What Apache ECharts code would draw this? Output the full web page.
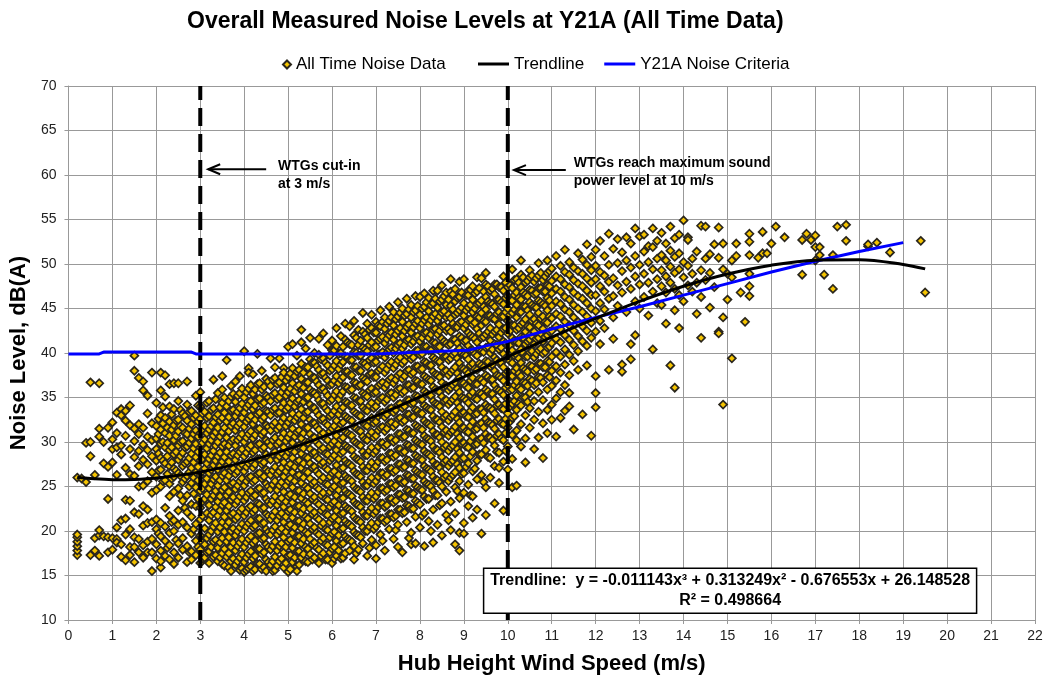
<!DOCTYPE html>
<html>
<head>
<meta charset="utf-8">
<script src="https://cdn.jsdelivr.net/npm/echarts@6/dist/echarts.min.js"></script>
<style>html,body{margin:0;padding:0;background:#fff;}#chart{width:1050px;height:680px;}</style>
</head>
<body>
<div id="chart"></div>
<script>
// ---------- DATA ----------
const chartTitle = 'Overall Measured Noise Levels at Y21A (All Time Data)';
const xAxisTitle = 'Hub Height Wind Speed (m/s)';
const yAxisTitle = 'Noise Level, dB(A)';
const seriesNames = ['All Time Noise Data', 'Trendline', 'Y21A Noise Criteria'];

// Each row: [hub height wind speed (m/s), noise level readings dB(A) ...]
const noiseByWindSpeed = [
[0.2,17.3,17.8,18.3,18.8,19.3,19.6,26.0],
[0.3,25.9],
[0.4,25.5,29.9],
[0.5,36.7,28.4,30.0,17.3],
[0.6,17.8,19.2,26.3],
[0.7,31.5,36.6,30.6,17.2,19.5,20.1],
[0.8,30.0,27.6,19.4],
[0.9,27.2,23.6,31.6,19.3,17.6],
[1.0,32.2,30.3,27.7,19.2,17.9,29.2],
[1.1,29.4,33.3,31.0,19.1,18.7,20.4,26.3],
[1.2,33.7,33.0,29.6,28.6,21.2,18.5,17.1],
[1.3,33.5,32.4,30.7,27.1,21.4,19.6,16.7,23.5],
[1.4,31.9,29.2,26.4,23.4,20.2,18.2,17.3,34.1],
[1.5,39.7,38.0,31.5,30.1,28.3,26.2,22.1,19.3,18.2,16.5],
[1.6,37.2,32.0,30.9,29.0,27.3,21.9,19.1,17.6,25.0],
[1.7,36.8,35.8,31.6,29.7,28.0,25.1,22.8,20.6,17.0,18.4],
[1.8,35.2,33.2,30.6,29.1,27.5,25.6,22.4,20.9,18.8,17.6],
[1.9,37.8,32.1,30.2,28.4,26.6,24.3,21.0,19.1,17.6,15.5],
[2.0,34.4,31.8,30.4,29.2,27.9,26.1,24.6,21.3,20.2,18.5,16.9],
[2.05,32.6,30.9,28.7,26.8,19.7],
[2.1,37.8,35.8,33.0,31.4,29.8,28.2,26.9,25.0,20.9,19.4,17.8,15.9,16.6],
[2.15,33.9,32.1,30.0,27.9,25.6],
[2.2,37.5,35.1,32.7,31.0,29.4,27.6,25.7,22.6,20.5,18.9,17.2],
[2.25,31.6,29.9,28.4,26.4,18.1],
[2.3,36.5,34.0,32.3,30.7,29.1,27.3,25.3,23.9,21.7,19.8,18.4,16.8],
[2.35,33.1,31.4,29.4,27.7,25.9,21.0],
[2.4,36.6,33.7,31.9,30.2,28.6,27.0,26.1,24.4,21.2,20.0,17.6,16.3],
[2.45,32.4,30.7,28.9,26.8,19.0],
[2.5,36.6,34.6,32.5,31.2,29.6,28.0,26.5,24.8,22.3,20.7,18.6,17.0],
[2.55,33.6,31.8,30.0,28.4,26.2,24.0],
[2.6,33.2,31.6,30.1,28.8,27.3,25.5,23.4,21.0,19.2,17.9],
[2.65,32.9,31.0,29.4,27.6,25.9,22.6],
[2.7,36.8,34.2,32.4,30.9,29.5,27.8,26.2,24.0,22.1,20.4,18.3,16.5],
[2.75,33.4,31.5,29.9,28.2,26.6,25.0,17.6],
[2.8,33.5,32.0,30.4,28.7,27.1,25.4,23.0,21.6,19.7,17.7,16.8],
[2.85,32.7,30.9,29.3,27.7,26.0,24.2,20.2],
[2.9,35.2,33.0,31.3,29.8,28.3,26.6,24.9,22.8,20.8,18.9,17.3],
[2.95,34.1,32.3,30.6,28.9,27.2,25.7,23.6,18.2],
[3.0,35.6,34.0,32.6,31.0,29.4,27.9,26.2,24.5,22.6,21.3,19.5,17.9,16.4],
[3.05,33.2,31.4,29.9,28.1,26.7,24.8,23.3,21.7,18.7,16.9],
[3.1,33.4,31.8,30.3,28.6,27.0,25.3,23.6,20.3,18.5,17.0],
[3.15,34.4,32.7,31.0,29.3,27.6,25.9,24.1,22.0,19.2,17.6],
[3.2,34.6,32.9,31.4,29.8,28.1,26.5,24.8,22.9,21.2,19.6,17.7,16.4],
[3.25,33.6,31.8,30.2,28.5,26.9,25.3,23.6,21.8,20.0,18.2],
[3.3,37.0,33.8,32.2,30.7,29.0,27.4,25.8,24.0,22.1,20.5,18.8,17.1],
[3.35,34.8,32.8,31.1,29.6,27.9,26.1,24.5,22.7,20.9,19.0,17.3],
[3.4,35.5,33.1,31.6,30.0,28.4,26.9,25.1,23.3,21.7,19.9,18.1,16.6],
[3.45,33.9,32.4,30.6,28.8,27.3,25.7,23.9,22.3,20.4,18.7,17.0],
[3.5,35.9,34.4,32.7,31.1,29.5,27.8,26.2,24.6,22.9,21.0,19.2,17.5,16.3,37.4],
[3.55,35.0,33.3,31.6,29.8,28.3,26.5,24.9,23.2,21.6,19.9,18.0,16.1],
[3.6,39.2,34.0,32.3,30.5,28.9,27.3,25.7,24.0,22.3,20.6,18.8,17.1],
[3.65,34.6,32.8,31.2,29.6,27.8,26.2,24.4,22.8,21.0,19.3,17.5,15.9],
[3.7,36.3,35.1,33.5,31.8,30.1,28.5,26.8,25.2,23.5,21.8,20.0,18.2,16.6,15.5],
[3.75,35.4,33.6,32.1,30.3,28.7,27.0,25.4,23.8,22.0,20.3,18.7,16.9],
[3.8,36.8,34.5,32.9,31.3,29.6,28.0,26.4,24.7,23.0,21.3,19.5,17.8,16.2],
[3.85,35.2,33.4,31.8,30.2,28.5,26.7,25.1,23.4,21.6,20.0,18.3,16.6],
[3.9,37.4,35.5,33.8,32.1,30.5,28.9,27.2,25.6,23.9,22.2,20.4,18.7,17.0,15.6],
[3.95,36.0,34.3,32.7,30.9,29.2,27.5,25.9,24.3,22.5,20.8,19.1,17.4,15.8],
[4.0,40.2,35.0,33.3,31.7,30.0,28.4,26.7,25.1,23.4,21.7,20.0,18.2,16.5,15.4],
[4.05,35.6,33.9,32.3,30.5,28.8,27.2,25.6,23.8,22.1,20.5,18.7,17.0,15.6],
[4.1,38.3,37.8,36.0,34.2,32.6,30.9,29.3,27.6,26.0,24.3,22.6,20.9,19.1,17.4,15.8],
[4.15,36.4,34.6,32.9,31.2,29.6,27.9,26.1,24.5,22.8,21.2,19.4,17.7,16.0],
[4.2,37.6,35.4,33.7,32.0,30.4,28.8,27.1,25.5,23.8,22.1,20.4,18.6,16.9,15.5],
[4.25,35.9,34.1,32.5,30.8,29.1,27.5,25.7,24.0,22.4,20.6,18.9,17.2,15.7],
[4.3,39.9,36.5,34.8,33.1,31.4,29.7,28.1,26.4,24.7,23.1,21.4,19.7,18.0,16.3],
[4.35,36.6,34.9,33.3,31.5,29.8,28.1,26.5,24.8,23.0,21.4,19.8,18.0,16.3],
[4.4,38.0,35.9,34.2,32.5,30.8,29.2,27.5,25.9,24.2,22.5,20.8,19.1,17.4,15.7],
[4.45,36.2,34.4,32.8,31.1,29.4,27.7,26.1,24.3,22.6,20.9,19.2,17.6,15.9],
[4.5,37.1,35.2,33.5,31.9,30.2,28.6,26.9,25.3,23.6,21.9,20.2,18.5,16.8,15.5],
[4.55,36.8,35.0,33.4,31.7,30.0,28.3,26.7,25.0,23.3,21.7,19.9,18.2,16.5],
[4.6,39.4,36.3,34.6,33.0,31.3,29.6,28.0,26.3,24.7,23.0,21.3,19.6,17.9,16.2],
[4.65,37.0,35.3,33.6,31.9,30.2,28.6,26.8,25.2,23.4,21.7,20.1,18.3,16.6,15.5],
[4.7,38.4,37.2,35.5,33.8,32.2,30.5,28.9,27.2,25.6,23.9,22.2,20.5,18.8,17.1,15.6],
[4.75,36.5,34.8,33.2,31.4,29.7,28.0,26.4,24.6,22.9,21.2,19.6,17.8,16.1],
[4.8,39.4,36.7,35.0,33.3,31.7,30.0,28.4,26.7,25.1,23.4,21.7,20.0,18.3,16.6],
[4.85,37.3,35.6,33.9,32.3,30.5,28.8,27.1,25.5,23.7,22.0,20.3,18.6,16.9],
[4.9,38.3,37.8,36.1,34.4,32.7,31.0,29.4,27.7,26.1,24.4,22.7,21.0,19.3,17.6,15.9],
[4.95,36.9,35.2,33.6,31.8,30.1,28.4,26.7,25.1,23.3,21.6,19.9,18.2,16.4],
[5.0,40.7,37.3,35.6,33.9,32.2,30.5,28.9,27.2,25.6,23.9,22.2,20.5,18.8,17.2,15.4],
[5.05,37.7,36.0,34.4,32.6,30.9,29.2,27.5,25.9,24.1,22.4,20.7,19.0,17.3,15.7],
[5.1,41.0,38.3,36.6,34.9,33.2,31.5,29.9,28.2,26.6,24.9,23.2,21.5,19.8,18.1,16.5],
[5.15,37.4,35.7,34.0,32.4,30.6,28.9,27.2,25.6,23.8,22.1,20.4,18.7,17.0],
[5.2,39.7,37.9,36.2,34.5,32.8,31.1,29.5,27.8,26.2,24.5,22.8,21.1,19.4,17.7,16.0,15.5],
[5.25,38.1,36.4,34.7,33.1,31.3,29.6,27.9,26.3,24.5,22.8,21.1,19.4,17.7,16.2],
[5.3,42.6,41.2,38.8,37.1,35.4,33.7,32.0,30.4,28.7,27.1,25.4,23.7,22.0,20.3,18.6,17.0],
[5.35,37.8,36.1,34.5,32.7,31.0,29.3,27.6,26.0,24.2,22.5,20.8,19.1,17.4],
[5.4,40.5,38.4,36.7,35.0,33.3,31.6,30.0,28.3,26.7,25.0,23.3,21.6,19.9,18.2,16.6],
[5.45,38.4,36.7,35.0,33.4,31.6,29.9,28.2,26.6,24.8,23.1,21.4,19.7,18.0,16.5],
[5.5,41.7,39.3,37.6,35.9,34.2,32.5,30.9,29.2,27.6,25.9,24.2,22.5,20.8,19.1,17.4],
[5.55,38.9,37.2,35.6,33.8,32.1,30.4,28.7,27.1,25.3,23.6,21.9,20.2,18.5,16.8],
[5.6,40.0,38.9,37.2,35.5,33.8,32.1,30.5,28.8,27.2,25.5,23.8,22.1,20.4,18.7,17.0],
[5.65,38.5,36.8,35.2,33.4,31.7,30.0,28.3,26.7,24.9,23.2,21.5,19.8,18.1],
[5.7,41.6,39.8,38.1,36.4,34.7,33.0,31.4,29.7,28.1,26.4,24.7,23.0,21.3,19.6,17.9,16.4],
[5.75,39.3,37.6,35.9,34.3,32.5,30.8,29.1,27.5,25.7,24.0,22.3,20.6,18.9,17.2],
[5.8,42.2,39.4,37.7,36.0,34.3,32.6,31.0,29.3,27.7,26.0,24.3,22.6,20.9,19.2,17.5],
[5.85,38.9,37.2,35.6,33.8,32.1,30.4,28.7,27.1,25.3,23.6,21.9,20.2,18.5,16.8],
[5.9,40.9,38.6,36.9,35.2,33.5,31.9,30.2,28.6,26.9,25.2,23.5,21.8,20.1,18.4,16.8],
[5.95,39.7,38.0,36.4,34.6,32.9,31.2,29.5,27.9,26.1,24.4,22.7,21.0,19.3,17.6],
[6.0,41.4,40.3,38.2,36.5,34.8,33.1,31.5,29.8,28.2,26.5,24.8,23.1,21.4,19.7,18.0,16.4],
[6.05,40.3,38.6,36.9,35.3,33.5,31.8,30.1,28.5,26.7,25.0,23.3,21.6,19.9,18.2,16.9],
[6.1,42.8,40.8,39.1,37.4,35.7,34.0,32.4,30.7,29.1,27.4,25.7,24.0,22.3,20.6,18.9,17.2],
[6.15,39.9,38.2,36.6,34.8,33.1,31.4,29.7,28.1,26.3,24.6,22.9,21.2,19.5,17.8],
[6.2,41.9,40.0,38.7,37.0,35.3,33.6,32.0,30.3,28.7,27.0,25.3,23.6,21.9,20.2,18.5,16.9],
[6.25,40.7,39.0,37.3,35.7,33.9,32.2,30.5,28.9,27.1,25.4,23.7,22.0,20.3,18.6,17.0],
[6.3,43.3,41.5,39.6,37.9,36.2,34.5,32.9,31.2,29.6,27.9,26.2,24.5,22.8,21.1,19.4,17.5],
[6.35,41.2,39.5,37.9,36.1,34.4,32.7,31.0,29.4,27.6,25.9,24.2,22.5,20.8,19.1],
[6.4,43.0,41.0,39.2,37.5,35.8,34.1,32.5,30.8,29.2,27.5,25.8,24.1,22.4,20.7,19.0,17.8],
[6.45,40.9,39.2,37.5,35.9,34.1,32.4,30.7,29.1,27.3,25.6,23.9,22.2,20.5,18.8],
[6.5,43.6,42.0,40.1,38.4,36.7,35.0,33.4,31.7,30.1,28.4,26.7,25.0,23.3,21.6,19.9,18.3,16.8],
[6.55,41.7,40.0,38.4,36.6,34.9,33.2,31.5,29.9,28.1,26.4,24.7,23.0,21.3,19.6,17.5],
[6.6,42.6,40.9,39.7,38.0,36.3,34.6,33.0,31.3,29.7,28.0,26.3,24.6,22.9,21.2,19.5,17.9],
[6.65,41.4,39.7,38.0,36.4,34.6,32.9,31.2,29.6,27.8,26.1,24.4,22.7,21.0,19.3],
[6.7,44.5,42.4,40.6,38.9,37.2,35.5,33.9,32.2,30.6,28.9,27.2,25.5,23.8,22.1,20.4,18.6],
[6.75,42.1,40.4,38.8,37.0,35.3,33.6,31.9,30.3,28.5,26.8,25.1,23.4,21.7,20.0],
[6.8,43.3,41.7,40.2,38.5,36.8,35.1,33.5,31.8,30.2,28.5,26.8,25.1,23.4,21.7,20.0,17.2],
[6.85,42.6,40.9,39.2,37.6,35.8,34.1,32.4,30.8,29.0,27.3,25.6,23.9,22.2,20.5,18.1],
[6.9,44.3,42.8,41.2,39.4,37.7,36.0,34.4,32.7,31.1,29.4,27.7,26.0,24.3,22.6,20.9,19.0],
[6.95,42.3,40.6,38.9,37.3,35.5,33.8,32.1,30.5,28.7,27.0,25.3,23.6,21.9,20.2],
[7.0,43.5,42.3,40.7,39.0,37.3,35.6,34.0,32.3,30.7,29.0,27.3,25.6,23.9,22.2,20.5,18.4,16.9],
[7.05,43.1,41.4,39.8,38.0,36.3,34.6,32.9,31.3,29.5,27.8,26.1,24.4,22.7,21.0],
[7.1,44.8,43.0,41.6,39.9,38.2,36.5,34.9,33.2,31.6,29.9,28.2,26.5,24.8,23.1,21.4,19.6],
[7.15,43.5,41.8,40.1,38.5,36.7,35.0,33.3,31.7,29.9,28.2,26.5,24.8,23.1,21.4,18.9],
[7.2,44.0,42.7,41.1,39.5,37.8,36.1,34.5,32.8,31.2,29.5,27.8,26.1,24.4,22.7,21.0,17.8],
[7.25,43.3,41.6,40.0,38.2,36.5,34.8,33.1,31.5,29.7,28.0,26.3,24.6,22.9,21.2],
[7.3,45.2,43.6,42.0,40.4,38.7,37.0,35.4,33.7,32.1,30.4,28.7,27.0,25.3,23.6,21.9,20.2],
[7.35,44.0,42.3,40.6,39.0,37.2,35.5,33.8,32.2,30.4,28.7,27.0,25.3,23.6,21.9],
[7.4,44.6,43.1,41.5,40.0,38.3,36.6,35.0,33.3,31.7,30.0,28.3,26.6,24.9,23.2,21.5,19.1],
[7.45,43.8,42.1,40.5,38.7,37.0,35.3,33.6,32.0,30.2,28.5,26.8,25.1,23.4,21.7,20.1],
[7.5,45.7,44.1,42.5,40.9,39.2,37.5,35.9,34.2,32.6,30.9,29.2,27.5,25.8,24.1,22.4,20.7,18.2],
[7.55,44.5,42.8,41.1,39.5,37.7,36.0,34.3,32.7,30.9,29.2,27.5,25.8,24.1,22.4],
[7.6,45.0,43.5,41.9,40.5,38.8,37.1,35.5,33.8,32.2,30.5,28.8,27.1,25.4,23.7,22.0,17.6],
[7.65,44.2,42.5,40.9,39.1,37.4,35.7,34.0,32.4,30.6,28.9,27.2,25.5,23.8,22.1],
[7.7,46.1,44.4,42.9,41.4,39.7,38.0,36.4,34.7,33.1,31.4,29.7,28.0,26.3,24.6,22.9,21.0],
[7.75,44.9,43.2,41.5,39.9,38.1,36.4,34.7,33.1,31.3,29.6,27.9,26.2,24.5,22.8,19.2],
[7.8,45.4,44.0,42.3,41.0,39.3,37.6,36.0,34.3,32.7,31.0,29.3,27.6,25.9,24.2,22.5,19.8,18.5],
[7.85,44.6,42.9,41.3,39.5,37.8,36.1,34.4,32.8,31.0,29.3,27.6,25.9,24.2,22.5],
[7.9,46.4,44.8,43.3,41.8,40.2,38.5,36.9,35.2,33.6,31.9,30.2,28.5,26.8,25.1,23.4,21.6,18.6],
[7.95,45.3,43.6,41.9,40.3,38.5,36.8,35.1,33.5,31.7,30.0,28.3,26.6,24.9,23.2],
[8.0,46.3,44.3,42.8,41.3,39.8,38.1,36.5,34.8,33.2,31.5,29.8,28.1,26.4,24.7,23.0,20.4],
[8.05,45.0,43.3,41.7,39.9,38.2,36.5,34.8,33.2,31.4,29.7,28.0,26.3,24.6,21.7],
[8.1,46.7,45.2,43.7,42.2,40.7,39.0,37.4,35.7,34.1,32.4,30.7,29.0,27.3,25.6,23.9,22.0,18.3],
[8.15,45.7,44.0,42.3,40.7,38.9,37.2,35.5,33.9,32.1,30.4,28.7,27.0,25.3,23.6],
[8.2,46.2,44.7,43.2,41.7,40.3,38.6,37.0,35.3,33.7,32.0,30.3,28.6,26.9,25.2,23.6,21.1],
[8.25,45.4,43.7,42.1,40.3,38.6,36.9,35.2,33.6,31.8,30.1,28.4,26.7,25.0,20.0],
[8.3,47.0,45.6,44.1,42.6,41.2,39.5,37.9,36.2,34.6,32.9,31.2,29.5,27.8,26.1,24.5,22.4,18.7],
[8.35,46.1,44.4,42.7,41.1,39.3,37.6,35.9,34.3,32.5,30.8,29.1,27.4,25.7,24.0],
[8.4,47.0,45.1,43.6,42.1,40.7,39.1,37.5,35.8,34.2,32.5,30.8,29.1,27.4,25.7,24.0,20.7],
[8.45,45.8,44.1,42.5,40.7,39.0,37.3,35.6,34.0,32.2,30.5,28.8,27.1,25.4,22.9],
[8.5,47.6,46.0,44.5,43.0,41.6,40.0,38.4,36.7,35.1,33.4,31.7,30.0,28.3,26.6,25.0,23.1,19.5],
[8.55,46.4,44.7,43.1,41.3,39.6,37.9,36.2,34.6,32.8,31.1,29.4,27.7,26.0],
[8.6,46.8,45.4,44.0,42.5,41.1,39.6,38.0,36.3,34.7,33.0,31.3,29.6,27.9,26.2,24.4,21.8],
[8.65,46.0,44.3,42.7,40.9,39.2,37.5,35.8,34.2,32.4,30.7,29.0,27.3,25.6,21.2],
[8.7,48.3,46.9,45.3,43.9,42.4,41.0,39.4,37.8,36.1,34.5,32.8,31.1,29.4,27.7,26.0,23.3,20.1],
[8.75,46.6,44.9,43.3,41.5,39.8,38.1,36.4,34.8,33.0,31.3,29.6,27.9,26.3],
[8.8,47.2,45.8,44.3,42.9,41.5,40.0,38.4,36.7,35.1,33.4,31.7,30.0,28.3,26.6,24.9,22.0,18.5],
[8.85,46.2,44.5,42.9,41.1,39.4,37.7,36.0,34.4,32.6,30.9,29.2,27.5,24.5],
[8.9,48.0,46.3,44.8,43.4,41.9,40.5,38.9,37.2,35.6,33.9,32.2,30.5,28.8,27.1,25.6,23.7,19.8,17.8],
[8.95,46.8,45.1,43.5,41.7,40.0,38.3,36.6,35.0,33.2,31.5,29.8,28.1,26.4],
[9.0,48.3,45.6,44.2,42.8,41.3,39.8,38.2,36.6,34.9,33.3,31.6,29.9,28.2,26.5,24.3,20.9,19.7],
[9.05,46.5,44.8,43.2,41.4,39.7,38.0,36.3,34.7,32.9,31.2,29.5,27.2],
[9.1,47.0,46.5,45.1,43.7,42.3,40.8,39.3,37.7,36.1,34.4,32.8,31.1,29.4,27.6,25.2,22.8],
[9.15,47.1,45.4,43.8,42.0,40.3,38.6,36.9,35.3,33.5,31.8,30.1,28.4,24.0],
[9.2,47.5,46.0,44.6,43.2,41.8,40.3,38.8,37.2,35.6,33.9,32.3,30.6,28.9,26.7,23.9,21.5],
[9.25,46.7,45.0,43.4,41.6,39.9,38.2,36.5,34.9,33.1,31.4,29.7,27.0],
[9.3,48.5,46.9,45.5,44.1,42.7,41.2,39.7,38.1,36.5,34.8,33.2,31.5,29.8,27.9,25.8,22.4],
[9.35,47.3,45.6,44.0,42.2,40.5,38.8,37.1,35.5,33.7,32.0,30.3,28.6],
[9.4,48.4,45.9,44.5,43.1,41.7,40.2,38.6,37.0,35.4,33.7,32.1,30.4,28.6,26.3,19.7],
[9.45,46.9,45.2,43.6,41.8,40.1,38.4,36.7,35.1,33.3,31.6,29.9,25.5],
[9.5,49.0,47.7,46.3,44.9,43.5,42.1,40.6,39.1,37.5,35.9,34.2,32.6,30.9,29.1,24.9,21.8],
[9.55,47.5,45.8,44.2,42.4,40.7,39.0,37.3,35.7,33.9,32.2,30.5,28.3],
[9.6,47.0,45.6,44.2,42.8,41.4,40.0,38.5,37.0,35.4,33.8,32.1,30.5,28.2,26.0],
[9.65,47.2,45.5,43.9,42.1,40.4,38.7,37.0,35.4,33.6,31.9,30.2],
[9.7,47.7,46.6,45.2,43.8,42.4,41.0,39.5,38.0,36.4,34.8,33.2,31.5,29.6,27.3,23.1],
[9.75,47.7,46.0,44.4,42.6,40.9,39.2,37.5,35.9,34.1,32.4,30.7,28.9],
[9.8,47.4,46.0,44.6,43.2,41.8,40.4,38.9,37.4,35.8,34.2,32.6,30.9,28.8,27.1,25.4],
[9.85,47.4,45.7,44.1,42.3,40.6,38.9,37.2,35.6,33.8,32.1,30.4],
[9.9,48.6,47.0,45.5,44.1,42.7,41.3,39.9,38.4,36.9,35.3,33.7,32.0,30.2,27.8,22.3],
[9.95,47.9,46.2,44.6,42.8,41.1,39.4,37.7,36.1,34.3,32.6,31.0,29.0],
[10.0,47.4,46.4,45.0,43.6,42.2,40.8,39.4,37.9,36.4,34.8,33.2,31.6,29.5,26.9],
[10.05,47.6,45.9,44.3,42.5,40.8,39.1,37.4,35.8,34.0,32.3],
[10.1,49.4,47.3,45.9,44.5,43.1,41.7,40.3,38.9,37.4,35.9,34.3,32.7,30.8,28.1,24.9],
[10.15,48.2,46.5,44.9,43.1,41.4,39.7,38.0,36.4,34.6,32.9],
[10.2,48.3,46.8,45.4,44.0,42.6,41.2,39.8,38.3,36.8,35.2,33.6,31.3,30.2,25.1],
[10.25,47.9,46.2,44.6,42.8,41.1,39.4,37.7,36.1,34.3],
[10.3,50.4,48.8,47.4,46.0,44.6,43.2,41.8,40.4,38.9,37.4,35.9,34.1,32.0,29.5],
[10.35,48.5,46.8,45.2,43.4,41.7,40.0,38.3,36.7,35.0],
[10.4,47.9,46.6,45.2,43.8,42.4,41.0,39.6,38.1,36.6,35.0,33.0,30.4,27.7],
[10.45,48.1,46.4,44.8,43.0,41.3,39.6,37.9,36.3,34.5],
[10.5,49.3,48.5,47.1,45.7,44.3,42.9,41.5,40.1,38.6,37.1,35.5,33.8,31.6],
[10.55,48.7,47.0,45.4,43.6,41.9,40.2,38.5,36.9],
[10.6,48.0,46.6,45.2,43.8,42.4,41.0,39.5,38.0,36.4,34.6,32.5,29.2],
[10.65,48.4,46.7,45.1,43.3,41.6,39.9,38.2,36.6],
[10.7,50.1,48.7,47.3,45.9,44.5,43.1,41.7,40.3,38.8,37.3,35.6,33.4,30.5],
[10.75,49.0,47.3,45.7,43.9,42.2,40.5,38.8,37.2],
[10.8,48.2,46.9,45.5,44.1,42.7,41.3,39.9,38.4,36.7,34.7,32.1,28.2],
[10.85,48.6,46.9,45.3,43.5,41.8,40.1,38.4],
[10.9,50.4,49.0,47.6,46.2,44.8,43.4,42.0,40.6,39.1,37.5,35.9,33.6,31.0],
[10.95,49.2,47.5,45.9,44.1,42.4,40.7,39.0,37.3],
[11.0,49.5,48.1,46.7,45.3,43.9,42.5,41.1,39.6,38.0,36.3,34.2,32.5],
[11.1,50.9,48.6,47.2,45.8,44.4,43.0,41.6,40.1,38.5,36.9,34.9,30.6],
[11.2,49.8,48.3,46.9,45.5,44.1,42.7,41.2,39.6,37.8,35.6,32.7],
[11.3,51.6,49.1,47.7,46.3,44.9,43.5,42.0,40.4,38.7,36.4,33.5],
[11.4,50.2,48.8,47.4,46.0,44.6,43.1,41.5,39.8,37.5,35.5,34.0],
[11.5,49.6,48.2,46.8,45.4,44.0,42.5,40.9,39.1,31.4],
[11.6,51.2,49.2,47.8,46.4,45.0,43.5,41.9,40.2,38.1],
[11.7,50.5,48.9,47.5,46.1,44.6,43.0,41.3,33.1],
[11.8,52.2,49.9,48.4,47.0,45.6,44.1,42.5,40.8,38.6],
[11.9,50.8,49.3,47.9,46.5,45.0,43.4,41.7,30.7],
[12.0,51.6,49.8,48.3,46.5,44.7,42.4,37.4,35.5,33.9],
[12.1,52.6,49.1,47.5,45.6,43.6,41.0],
[12.2,50.9,48.7,46.9,44.9,42.8],
[12.3,53.4,49.9,48.0,46.1,38.1],
[12.4,51.7,48.4,46.4,44.0,41.6],
[12.5,52.8,50.1,47.6,45.3],
[12.6,51.3,49.2,46.8,38.7,37.9],
[12.7,53.0,50.4,48.0,44.6],
[12.8,52.3,49.6,47.2,41.0,39.3],
[12.9,54.0,50.9,48.6,45.8,42.0],
[13.0,53.1,49.9,47.7,45.0],
[13.1,53.3,51.4,48.9,46.3],
[13.2,52.0,50.2,47.9,44.2],
[13.3,54.0,51.9,49.4,46.9,40.4],
[13.4,52.6,50.6,48.3,45.6],
[13.5,53.5,51.0,49.3,47.5,45.4],
[13.6,52.3,50.4,48.6,46.8,43.3],
[13.7,54.2,51.5,49.7,47.9,38.6],
[13.8,52.9,50.8,49.0,47.2,44.8,36.1],
[13.9,53.3,51.2,49.4,46.5,42.8],
[14.0,54.9,50.2,48.5,45.8],
[14.1,53.0,52.7,49.8,47.6],
[14.2,50.6,48.9,46.9],
[14.3,51.4,47.9,44.4],
[14.4,54.3,49.3,46.3,41.7],
[14.5,54.2,50.6,48.2],
[14.6,51.1,49.0,45.1],
[14.7,52.2,47.4],
[14.8,54.1,50.7,42.4,42.2],
[14.9,52.3,49.4,44.0,34.2],
[15.0,48.9,46.0],
[15.1,50.4,48.5,39.4],
[15.2,52.3,50.9],
[15.3,46.8],
[15.4,43.5],
[15.5,53.4,52.5,51.0,48.9,47.5,46.4],
[15.7,50.7],
[15.8,53.6,51.2],
[15.9,51.2],
[16.0,52.3],
[16.1,54.2],
[16.3,53.0],
[16.7,52.7,48.8],
[16.8,53.4],
[16.9,52.7],
[17.0,53.2,51.9,50.4],
[17.1,51.9,51.0],
[17.2,48.8],
[17.4,47.2,51.0],
[17.5,54.2],
[17.7,54.4,52.6],
[18.2,52.0,52.2],
[18.4,52.4],
[18.7,51.3],
[19.4,52.6],
[19.5,46.8]
];

// Trendline (cubic fit shown on chart), read at these wind speeds
const trendSpeed = [0.2, 0.5, 1, 1.5, 2, 3, 4, 5, 6, 7, 8, 9, 10, 11, 12, 13, 14, 15, 16, 17, 18, 19, 19.5];
const trendNoise = [26.03, 25.89, 25.77, 25.80, 25.96, 26.64, 27.74, 29.20, 30.96, 32.94, 35.08, 37.31, 39.57, 41.78, 43.88, 45.81, 47.50, 48.87, 49.87, 50.43, 50.48, 49.95, 49.45];

// Y21A noise criteria
const criteriaSpeed = [0, 0.7, 0.8, 2.8, 2.9, 7.0, 8.5, 9.1, 9.5, 10, 11, 12, 13, 14, 15, 16, 17, 18, 19];
const criteriaNoise = [39.9, 39.9, 40.1, 40.1, 39.9, 39.9, 40.2, 40.3, 40.8, 41.3, 42.7, 44.0, 45.2, 46.5, 47.8, 49.1, 50.3, 51.4, 52.4];

// Reference wind speeds
const cutInSpeed = 3;
const maxSoundSpeed = 10;
const cutInLabel = 'WTGs cut-in\nat 3 m/s';
const maxSoundLabel = 'WTGs reach maximum sound\npower level at 10 m/s';
const equationText = 'Trendline:  y = -0.011143x\u00B3 + 0.313249x\u00B2 - 0.676553x + 26.148528';
const rSquaredText = 'R\u00B2 = 0.498664';

const xMin = 0, xMax = 22, xStep = 1;
const yMin = 10, yMax = 70, yStep = 5;

// ---------- BUILD ----------
const FONT = '"Liberation Sans", Arial, Helvetica, sans-serif';
const scatterData = [];
noiseByWindSpeed.forEach(row => {
  for (let i = 1; i < row.length; i++) scatterData.push([row[0], row[i]]);
});
const trendData = trendSpeed.map((x, i) => [x, trendNoise[i]]);
const criteriaData = criteriaSpeed.map((x, i) => [x, criteriaNoise[i]]);

const chart = echarts.init(document.getElementById('chart'), null, {renderer: 'canvas'});
const gridColor = '#999999';

chart.setOption({
  animation: false,
  backgroundColor: '#ffffff',
  title: {
    text: chartTitle, left: 187, top: 10, padding: 0,
    textStyle: {fontFamily: FONT, fontSize: 23, fontWeight: 'bold', color: '#000'}
  },
  legend: [
    {
      data: [{name: seriesNames[0], icon: 'diamond'}],
      left: 282, top: 56, padding: 0, itemWidth: 8, itemHeight: 8,
      textStyle: {fontFamily: FONT, fontSize: 17, color: '#000'}
    },
    {
      data: [{name: seriesNames[1], icon: 'rect'}, {name: seriesNames[2], icon: 'rect'}],
      left: 478, top: 55.5, padding: 0, itemWidth: 31, itemHeight: 3, itemGap: 20,
      textStyle: {fontFamily: FONT, fontSize: 17, color: '#000'}
    }
  ],
  grid: {left: 67, right: 15, top: 86, bottom: 59, show: false},
  xAxis: {
    type: 'value', min: xMin, max: xMax, interval: xStep,
    name: xAxisTitle, nameLocation: 'middle', nameGap: 33,
    nameTextStyle: {fontFamily: FONT, fontSize: 22, fontWeight: 'bold', color: '#000'},
    axisLine: {show: true, onZero: false, lineStyle: {color: gridColor, width: 1}},
    axisTick: {show: true, length: 4, lineStyle: {color: gridColor}},
    axisLabel: {fontFamily: FONT, fontSize: 14, color: '#222', margin: 9},
    splitLine: {show: true, lineStyle: {color: gridColor, width: 1}}
  },
  yAxis: {
    type: 'value', min: yMin, max: yMax, interval: yStep,
    name: yAxisTitle, nameLocation: 'middle', nameGap: 27, nameRotate: 90,
    nameTextStyle: {fontFamily: FONT, fontSize: 22, fontWeight: 'bold', color: '#000'},
    axisLine: {show: true, onZero: false, lineStyle: {color: gridColor, width: 1}},
    axisTick: {show: true, length: 4, lineStyle: {color: gridColor}},
    axisLabel: {fontFamily: FONT, fontSize: 14, color: '#222', margin: 12},
    splitLine: {show: true, lineStyle: {color: gridColor, width: 1}}
  },
  series: [
    {
      name: seriesNames[0], type: 'scatter', data: scatterData,
      symbol: 'diamond', symbolSize: 8, z: 2,
      itemStyle: {color: '#f5c400', borderColor: '#2a261c', borderWidth: 1.7, opacity: 1}
    },
    {
      name: 'cutIn', type: 'line', data: [[cutInSpeed, yMin], [cutInSpeed, yMax]],
      showSymbol: false, symbol: 'none', silent: true, z: 5,
      lineStyle: {color: '#000', width: 4, type: [18, 8]}
    },
    {
      name: 'maxSound', type: 'line', data: [[maxSoundSpeed, yMin], [maxSoundSpeed, yMax]],
      showSymbol: false, symbol: 'none', silent: true, z: 5,
      lineStyle: {color: '#000', width: 4, type: [18, 8]}
    },
    {
      name: seriesNames[2], type: 'line', data: criteriaData,
      showSymbol: false, symbol: 'none', z: 6, color: '#0000ff',
      lineStyle: {color: '#0000ff', width: 3}
    },
    {
      name: seriesNames[1], type: 'line', data: trendData, smooth: 0.35,
      showSymbol: false, symbol: 'none', z: 7, color: '#000',
      lineStyle: {color: '#000', width: 3}
    }
  ]
});

// ---------- ANNOTATIONS (placed in data space) ----------
function px(x, y) { return chart.convertToPixel({gridIndex: 0}, [x, y]); }
function arrow(fromX, toX, atY) {
  const a = px(fromX, atY), b = px(toX, atY);
  return [
    {type: 'polyline', z: 20, shape: {points: [a, b]}, style: {stroke: '#000', lineWidth: 2, fill: null}},
    {type: 'polyline', z: 20, shape: {points: [[b[0] + 12, b[1] - 5], b, [b[0] + 12, b[1] + 5]]},
     style: {stroke: '#000', lineWidth: 2, fill: null}}
  ];
}
const t1 = px(4.77, 60.0), t2 = px(11.5, 60.3);
const eq = px(15.06, 13.3);
const boxW = 493, boxH = 45;
chart.setOption({
  graphic: [
    ...arrow(4.5, 3.18, 60.65),
    ...arrow(11.32, 10.14, 60.55),
    {type: 'text', z: 20, x: t1[0], y: t1[1],
     style: {text: cutInLabel, font: 'bold 14px ' + FONT, fill: '#000', lineHeight: 18, verticalAlign: 'middle'}},
    {type: 'text', z: 20, x: t2[0], y: t2[1],
     style: {text: maxSoundLabel, font: 'bold 14px ' + FONT, fill: '#000', lineHeight: 18, verticalAlign: 'middle'}},
    {type: 'rect', z: 20, shape: {x: eq[0] - boxW / 2, y: eq[1] - boxH / 2, width: boxW, height: boxH},
     style: {fill: '#fff', stroke: '#000', lineWidth: 1.5}},
    {type: 'text', z: 21, x: eq[0], y: eq[1] - 10,
     style: {text: equationText, font: 'bold 16px ' + FONT, fill: '#000', align: 'center', verticalAlign: 'middle'}},
    {type: 'text', z: 21, x: eq[0], y: eq[1] + 10,
     style: {text: rSquaredText, font: 'bold 16px ' + FONT, fill: '#000', align: 'center', verticalAlign: 'middle'}}
  ]
});
</script>
</body>
</html>
